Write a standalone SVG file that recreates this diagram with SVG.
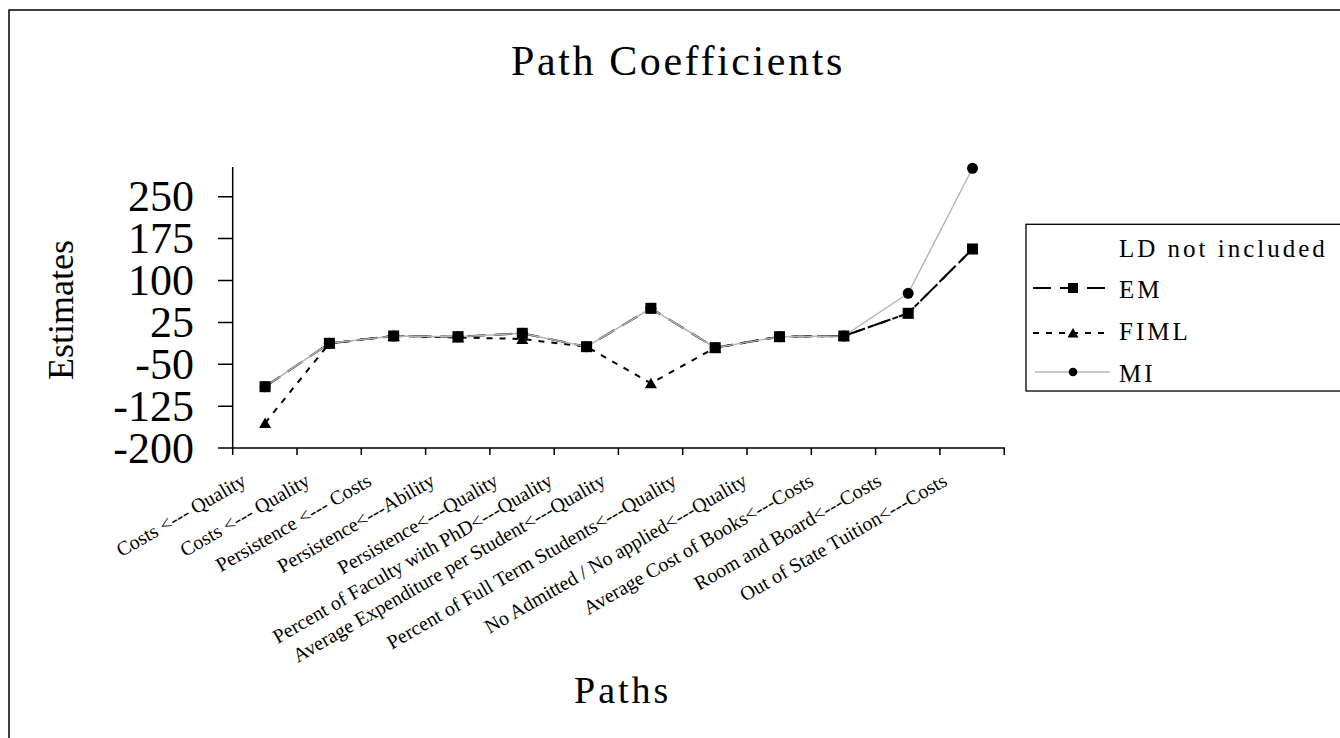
<svg xmlns="http://www.w3.org/2000/svg" xmlns:xlink="http://www.w3.org/1999/xlink" width="1340" height="738" viewBox="0 0 1340 738">
<style>
text { font-family: "Liberation Serif", "Times New Roman", serif; fill: #000; }
.title { font-size: 42px; letter-spacing: 2.6px; }
.axt { font-size: 38px; letter-spacing: 3px; }
.ytl { font-size: 44px; text-anchor: end; }
.xtl { font-size: 20px; text-anchor: end; }
.leg { font-size: 25px; letter-spacing: 3px; }
.axis { stroke: #000; stroke-width: 1.5; fill: none; }
.em { stroke: #000; stroke-width: 2; fill: none; stroke-dasharray: 18 9; }
.fiml { stroke: #000; stroke-width: 2; fill: none; stroke-dasharray: 6 7; }
.mi { stroke: #b4b4b4; stroke-width: 1.4; fill: none; }
</style>
<defs>
<rect id="sq" x="-5.5" y="-5.5" width="11" height="11" fill="#000"/>
<polygon id="tri" points="0,-5.5 6,5 -6,5" fill="#000"/>
<circle id="dot" r="5.5" fill="#000"/>
<rect id="sqs" x="-5" y="-5" width="10" height="10" fill="#000"/>
<polygon id="tris" points="0,-5 5.5,4.5 -5.5,4.5" fill="#000"/>
<circle id="dots" r="4.3" fill="#000"/>
</defs>
<rect width="1340" height="738" fill="#fff"/>
<rect id="frame" x="9" y="10" width="1345" height="740" fill="none" stroke="#000" stroke-width="1.5"/>
<g id="title"><text class="title" x="511" y="75">Path Coefficients</text></g>
<g id="y-axis-title"><text class="axt" style="font-size:36px;letter-spacing:0" transform="translate(73,380) rotate(-90)">Estimates</text></g>
<g id="x-axis-title"><text class="axt" x="574" y="703">Paths</text></g>
<g id="axes">
<path class="axis" d="M232.7,167 V455 M232.7,448.1 H1005"/>
<path class="axis" d="M218,196.7 H232.7 M218,238.6 H232.7 M218,280.5 H232.7 M218,322.4 H232.7 M218,364.3 H232.7 M218,406.2 H232.7 M218,448.1 H232.7"/>
<path class="axis" d="M297,448 V455 M361.3,448 V455 M425.6,448 V455 M489.9,448 V455 M554.2,448 V455 M618.4,448 V455 M682.7,448 V455 M747,448 V455 M811.3,448 V455 M875.6,448 V455 M939.9,448 V455 M1004.2,448 V455"/>
</g>
<g id="y-tick-labels">
<text class="ytl" x="194" y="211">250</text>
<text class="ytl" x="194" y="253">175</text>
<text class="ytl" x="194" y="295">100</text>
<text class="ytl" x="194" y="337">25</text>
<text class="ytl" x="194" y="379">-50</text>
<text class="ytl" x="194" y="421">-125</text>
<text class="ytl" x="194" y="463">-200</text>
</g>
<g id="x-tick-labels">
<text class="xtl" transform="translate(247.5,484.5) rotate(-30)">Costs &lt;--- Quality</text>
<text class="xtl" transform="translate(311.2,484.5) rotate(-30)">Costs &lt;--- Quality</text>
<text class="xtl" transform="translate(372.8,484.5) rotate(-30)">Persistence &lt;--- Costs</text>
<text class="xtl" transform="translate(436.2,484.5) rotate(-30)">Persistence&lt;---Ability</text>
<text class="xtl" transform="translate(499.5,484.5) rotate(-30)">Persistence&lt;---Quality</text>
<text class="xtl" transform="translate(554,484.5) rotate(-30)">Percent of Faculty with PhD&lt;---Quality</text>
<text class="xtl" transform="translate(606.8,484.5) rotate(-30)">Average Expenditure per Student&lt;---Quality</text>
<text class="xtl" transform="translate(678,484.5) rotate(-30)">Percent of Full Term Students&lt;---Quality</text>
<text class="xtl" transform="translate(748.4,484.5) rotate(-30)">No Admitted / No applied&lt;---Quality</text>
<text class="xtl" transform="translate(814.7,484.5) rotate(-30)">Average Cost of Books&lt;---Costs</text>
<text class="xtl" transform="translate(882.8,484.5) rotate(-30)">Room and Board&lt;---Costs</text>
<text class="xtl" transform="translate(948.4,484.5) rotate(-30)">Out of State Tuition&lt;---Costs</text>
</g>
<g id="connectors">
<polyline id="line-em" class="em" points="265.1,386.7 329.4,343.3 393.7,336 458,336.7 522.3,333.3 586.6,346.7 650.9,308.3 715.2,347.7 779.5,336.7 843.8,336 908.2,313.3 972.5,249"/>
<polyline id="line-fiml" class="fiml" points="265.1,423 329.4,343.3 393.7,336 458,337.5 522.3,339 586.6,346.7 650.9,383.3 715.2,347.7 779.5,336.7 843.8,336 908.2,313.3 972.5,249"/>
<polyline id="line-mi" class="mi" points="265.1,386.7 329.4,343.3 393.7,336 458,336.7 522.3,333.3 586.6,346.7 650.9,308.3 715.2,347.7 779.5,336.7 843.8,336 908.2,293.3 972.5,168.3"/>
</g>
<g id="markers-em">
<use xlink:href="#sq" x="265.1" y="386.7"/><use xlink:href="#sq" x="329.4" y="343.3"/><use xlink:href="#sq" x="393.7" y="336"/><use xlink:href="#sq" x="458" y="336.7"/><use xlink:href="#sq" x="522.3" y="333.3"/><use xlink:href="#sq" x="586.6" y="346.7"/><use xlink:href="#sq" x="650.9" y="308.3"/><use xlink:href="#sq" x="715.2" y="347.7"/><use xlink:href="#sq" x="779.5" y="336.7"/><use xlink:href="#sq" x="843.8" y="336"/><use xlink:href="#sq" x="908.2" y="313.3"/><use xlink:href="#sq" x="972.5" y="249"/>
</g>
<g id="markers-fiml">
<use xlink:href="#tri" x="265.1" y="423"/><use xlink:href="#tri" x="329.4" y="343.3"/><use xlink:href="#tri" x="393.7" y="336"/><use xlink:href="#tri" x="458" y="337.5"/><use xlink:href="#tri" x="522.3" y="339"/><use xlink:href="#tri" x="586.6" y="346.7"/><use xlink:href="#tri" x="650.9" y="383.3"/><use xlink:href="#tri" x="715.2" y="347.7"/><use xlink:href="#tri" x="779.5" y="336.7"/><use xlink:href="#tri" x="843.8" y="336"/><use xlink:href="#tri" x="908.2" y="313.3"/><use xlink:href="#tri" x="972.5" y="249"/>
</g>
<g id="markers-mi">
<use xlink:href="#dot" x="265.1" y="386.7"/><use xlink:href="#dot" x="329.4" y="343.3"/><use xlink:href="#dot" x="393.7" y="336"/><use xlink:href="#dot" x="458" y="336.7"/><use xlink:href="#dot" x="522.3" y="333.3"/><use xlink:href="#dot" x="586.6" y="346.7"/><use xlink:href="#dot" x="650.9" y="308.3"/><use xlink:href="#dot" x="715.2" y="347.7"/><use xlink:href="#dot" x="779.5" y="336.7"/><use xlink:href="#dot" x="843.8" y="336"/><use xlink:href="#dot" x="908.2" y="293.3"/><use xlink:href="#dot" x="972.5" y="168.3"/>
</g>
<g id="legend">
<rect x="1026" y="224.3" width="330" height="166.7" fill="#fff" stroke="#000" stroke-width="1.3"/>
<text class="leg" x="1119" y="257">LD not included</text>
<line class="em" x1="1033" y1="288" x2="1110" y2="288" stroke-dasharray="22 8"/>
<use xlink:href="#sqs" x="1073" y="288"/>
<text class="leg" x="1119" y="298">EM</text>
<line class="fiml" x1="1033" y1="333" x2="1110" y2="333" stroke-dasharray="6 6"/>
<use xlink:href="#tris" x="1073" y="333"/>
<text class="leg" x="1119" y="340">FIML</text>
<line class="mi" x1="1035" y1="372" x2="1110" y2="372" stroke-width="2"/>
<use xlink:href="#dots" x="1073" y="372"/>
<text class="leg" x="1119" y="382">MI</text>
</g>
</svg>
